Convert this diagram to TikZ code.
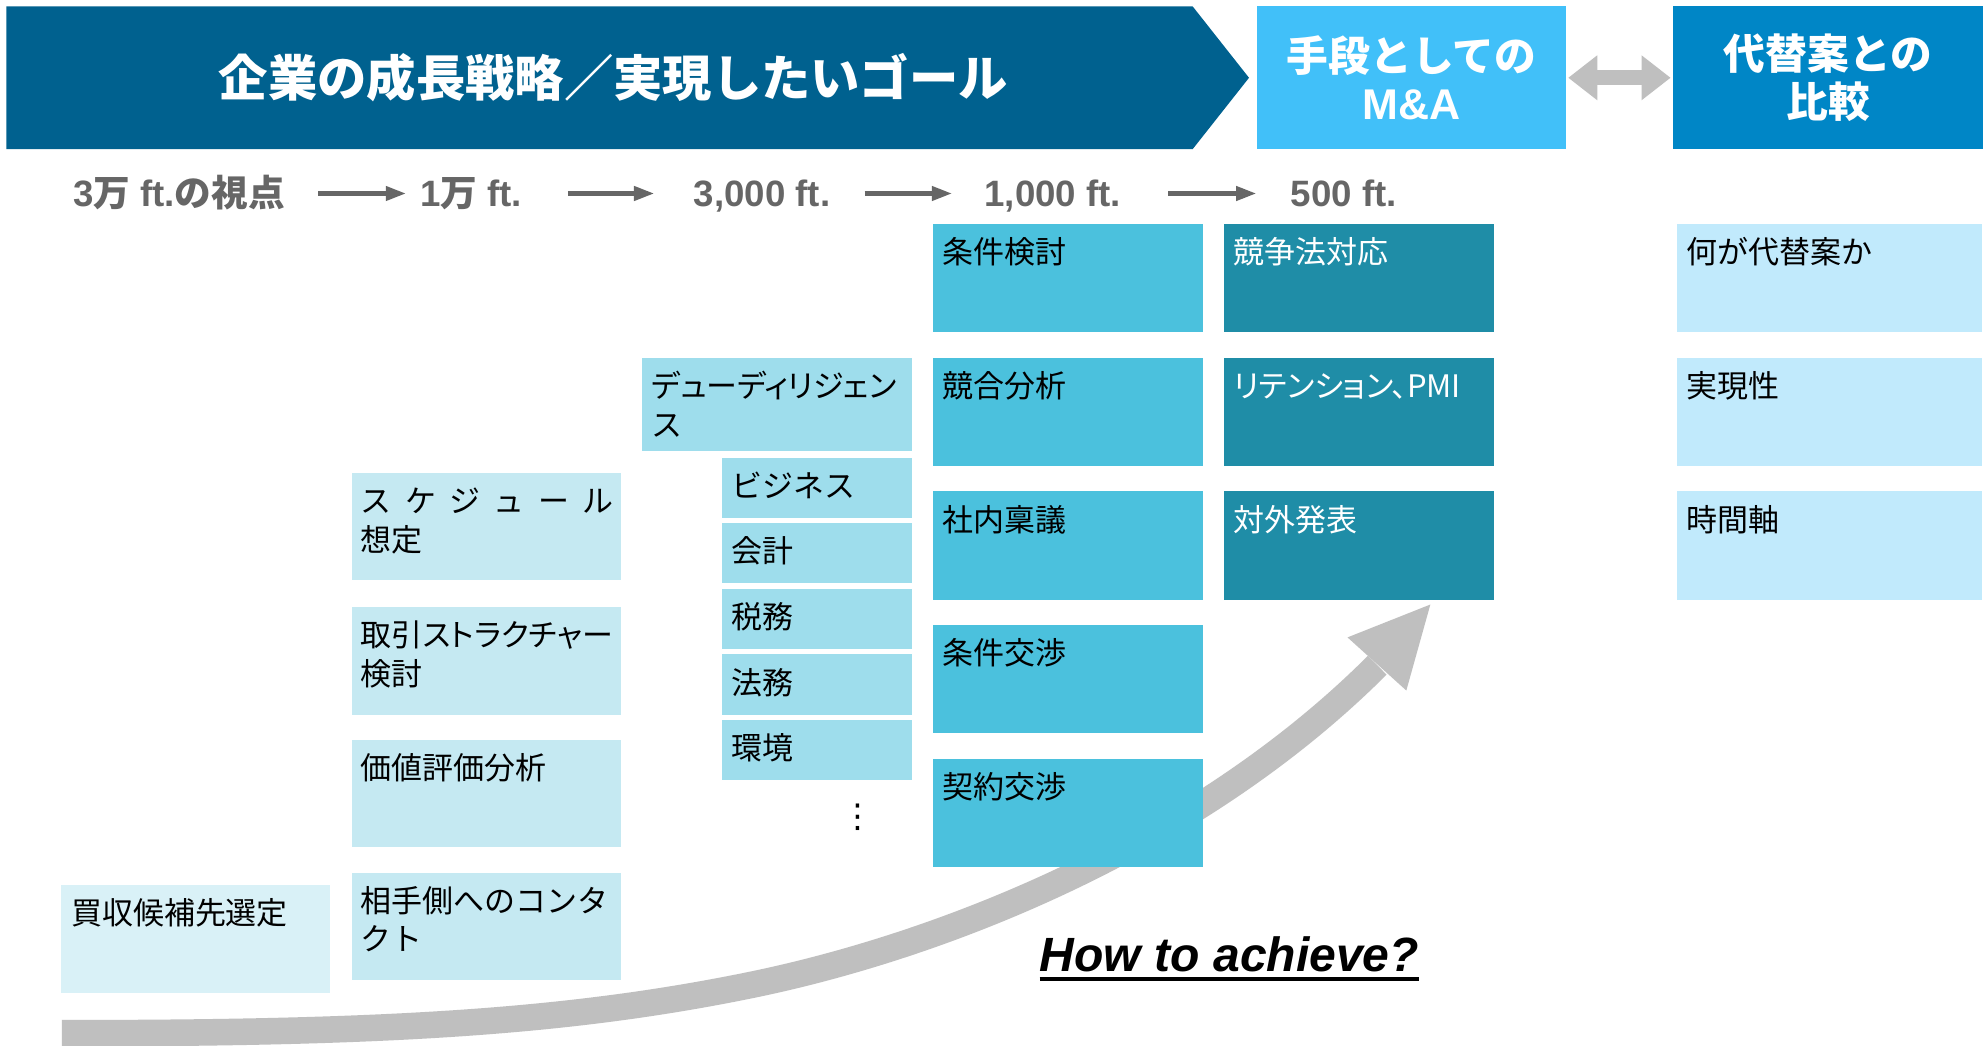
\documentclass[tikz,border=0pt]{standalone}
\usepackage{fontspec}
\usetikzlibrary{arrows.meta,calc}
\newfontfamily\jp{Noto Sans CJK JP}
\newfontfamily\jpp{Noto Sans CJK JP}[RawFeature=+palt]
\newfontfamily\ar{Liberation Sans}
\newfontfamily\dv{DejaVu Sans}
\definecolor{hdrblue}{HTML}{00618F}
\definecolor{mablue}{HTML}{41C0F9}
\definecolor{altblue}{HTML}{0086C6}
\definecolor{cthousand}{HTML}{4BC1DD}
\definecolor{cfive}{HTML}{1F8DA7}
\definecolor{cright}{HTML}{C1EAFC}
\definecolor{cdd}{HTML}{9EDDEC}
\definecolor{cman}{HTML}{C5E9F2}
\definecolor{cthree}{HTML}{D9F1F7}
\definecolor{arrgray}{HTML}{BFBFBF}
\definecolor{altgray}{HTML}{666666}
\newcommand\bxfont{\jp\fontsize{24.5}{30.5}\selectfont}
\newcommand\altfont{\ar\bfseries\fontsize{29}{34}\selectfont}
\newcommand\twoline[2]{\begin{tabular}[t]{@{}l@{}}#1\\#2\end{tabular}}
\begin{document}
\begin{tikzpicture}[x=1pt,y=-1pt,
  bx/.style={anchor=north west, inner sep=0pt, outer sep=0pt},
  bthousand/.style={bx, fill=cthousand, minimum width=213pt, minimum height=85.5pt},
  bfive/.style={bx, fill=cfive, minimum width=213pt, minimum height=85.5pt},
  bright/.style={bx, fill=cright, minimum width=241pt, minimum height=85.5pt},
  bman/.style={bx, fill=cman, minimum width=213pt, minimum height=85pt},
  bsub/.style={bx, fill=cdd, minimum width=150pt, minimum height=47.5pt},
  lbl/.style={anchor=base west, inner sep=0pt, font=\bxfont, text=black},
  wlbl/.style={lbl, text=white},
  altlbl/.style={anchor=base, inner sep=0pt, font=\altfont, text=altgray},
  altarr/.style={draw=altgray, line width=3.5pt, -{Triangle[length=16pt,width=11pt]}},
  dblarr/.style={draw=arrgray, line width=12pt, {Triangle[length=23pt,width=34pt]}-{Triangle[length=23pt,width=34pt]}, shorten <=2pt, shorten >=2pt},
  bigarr/.style={draw=arrgray, line width=21pt},
  hdrtext/.style={inner sep=0pt, text=white, font=\jp\bfseries\fontsize{39}{44}\selectfont},
  topbox/.style={bx, minimum height=113pt, align=center, text=white, font=\jp\bfseries\fontsize{33}{38}\selectfont}
]
\useasboundingbox (0,0) rectangle (1568,827);
\fill[white] (0,0) rectangle (1568,827);

% big curved arrow
\coordinate (arrS) at (49,817);
\coordinate (arrM) at (593,779);
\coordinate (arrE) at (1089,526);
\coordinate (arrT) at (1131,478);
\draw[bigarr] (arrS) .. controls (299,817) and (446,809) .. (arrM) .. controls (740,749) and (944.1,670.9) .. (arrE);
\fill[arrgray] (1065.5,504) -- (arrT) -- (1112,546) -- cycle;

% header
\fill[hdrblue] (5,5) -- (943,5) -- (987.6,61.5) -- (943,118) -- (5,118) -- cycle;
\node[hdrtext] (goal) at (485,61.5) {企業の成長戦略／実現したいゴール};
\node[topbox, fill=mablue, minimum width=244pt] (ma) at (994,5) {手段としての\\{\ar\fontsize{34}{38}\selectfont M\&A}};
\node[topbox, fill=altblue, minimum width=245pt] (alt) at (1323,5) {代替案との\\比較};
\draw[dblarr] (ma.east) -- (alt.west);

% altitude row
\node[altlbl] (l1) at (141.5,163.5) {3{\jp 万} ft.{\jp の視点}};
\node[altlbl] (l2) at (372.5,163.5) {1{\jp 万} ft.};
\node[altlbl] (l3) at (602.5,163.5) {3,000 ft.};
\node[altlbl] (l4) at (832.5,163.5) {1,000 ft.};
\node[altlbl] (l5) at (1062.5,163.5) {500 ft.};
\draw[altarr, shorten <=26pt, shorten >=11pt] ([yshift=10.5pt]l1.base east) -- ([yshift=10.5pt]l2.base west);
\draw[altarr, shorten <=36pt, shorten >=31pt] ([yshift=10.5pt]l2.base east) -- ([yshift=10.5pt]l3.base west);
\draw[altarr, shorten <=27pt, shorten >=25.5pt] ([yshift=10.5pt]l3.base east) -- ([yshift=10.5pt]l4.base west);
\draw[altarr, shorten <=37pt, shorten >=27pt] ([yshift=10.5pt]l4.base east) -- ([yshift=10.5pt]l5.base west);

% 3man
\node[bx, fill=cthree, minimum width=213pt, minimum height=85pt] (s1) at (48,700) {};
\node[lbl] (s1t) at (56,731.3) {買収候補先選定};

% 1man
\node[bman] (m1) at (278,374) {};
\node[bman] (m2) at (278,480) {};
\node[bman] (m3) at (278,585) {};
\node[bman] (m4) at (278,690) {};
\node[lbl] (m1t) at (285,405.3) {\twoline{\makebox[200pt][s]{ス\hfill ケ\hfill ジ\hfill ュ\hfill ー\hfill ル}}{想定}};
\node[lbl] (m2t) at (285,511.3) {\twoline{{\jpp 取引ストラクチャー}}{検討}};
\node[lbl] (m3t) at (285,616.3) {価値評価分析};
\node[lbl] (m4t) at (285,721.3) {\twoline{相手側へのコンタ}{クト}};

% 3000 ft
\node[bx, fill=cdd, minimum width=213pt, minimum height=74pt] (dd) at (508,283) {};
\node[lbl] (ddt) at (515,314.3) {\twoline{{\jpp デューディリジェン}}{ス}};
\node[bsub] (d1) at (571,362) {};
\node[bsub] (d2) at (571,413.5) {};
\node[bsub] (d3) at (571,465.5) {};
\node[bsub] (d4) at (571,517.5) {};
\node[bsub] (d5) at (571,569) {};
\node[lbl] (d1t) at (578,393.3) {ビジネス};
\node[lbl] (d2t) at (578,444.8) {会計};
\node[lbl] (d3t) at (578,496.8) {税務};
\node[lbl] (d4t) at (578,548.8) {法務};
\node[lbl] (d5t) at (578,600.3) {環境};
\node[inner sep=0pt, font=\dv\fontsize{26}{30}\selectfont] (vd) at (678,646.5) {⋮};

% 1000 ft
\node[bthousand] (k1) at (738,177) {};
\node[bthousand] (k2) at (738,282.8) {};
\node[bthousand] (k3) at (738,388.6) {};
\node[bthousand] (k4) at (738,494.4) {};
\node[bthousand] (k5) at (738,600.2) {};
\node[lbl] (k1t) at (745,208.3) {条件検討};
\node[lbl] (k2t) at (745,314.1) {競合分析};
\node[lbl] (k3t) at (745,419.9) {社内稟議};
\node[lbl] (k4t) at (745,525.7) {条件交渉};
\node[lbl] (k5t) at (745,631.5) {契約交渉};

% 500 ft
\node[bfive] (f1) at (968,177) {};
\node[bfive] (f2) at (968,282.8) {};
\node[bfive] (f3) at (968,388.6) {};
\node[wlbl] (f1t) at (975,208.3) {競争法対応};
\node[wlbl] (f2t) at (975,314.1) {{\jpp リテンション、}PMI};
\node[wlbl] (f3t) at (975,419.9) {対外発表};

% right column
\node[bright] (r1) at (1326,177) {};
\node[bright] (r2) at (1326,282.8) {};
\node[bright] (r3) at (1326,388.6) {};
\node[lbl] (r1t) at (1333,208.3) {何が代替案か};
\node[lbl] (r2t) at (1333,314.1) {実現性};
\node[lbl] (r3t) at (1333,419.9) {時間軸};

% how to achieve
\node[anchor=base west, inner sep=0pt, font=\ar\bfseries\itshape\fontsize{38}{44}\selectfont] (how) at (822,768.3) {How to achieve?};
\draw[line width=3.5pt] ([yshift=-6pt]how.base west) -- ([yshift=-6pt]how.base east);
\end{tikzpicture}
\end{document}
